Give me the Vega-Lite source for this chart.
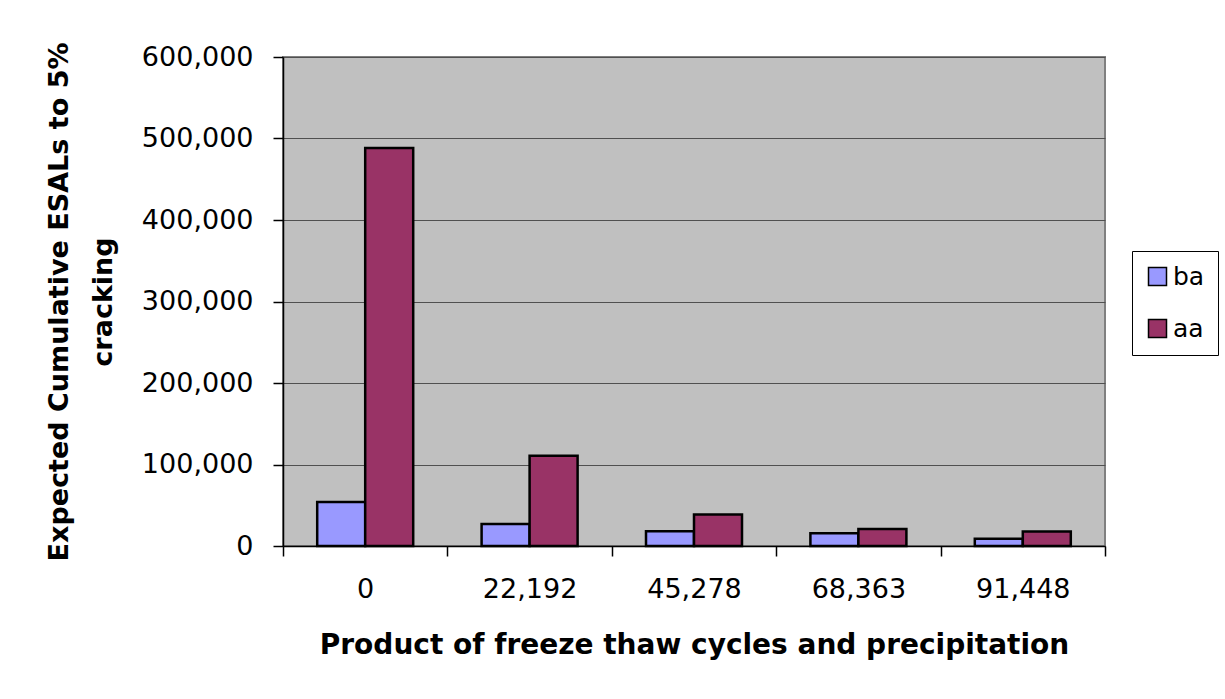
{
  "$schema": "https://vega.github.io/schema/vega-lite/v6.json",
  "autosize": "none",
  "padding": {"left": 283, "top": 57, "right": 120, "bottom": 153},
  "width": 822,
  "height": 489,
  "background": "white",
  "data": {
    "values": [
      {"cat": "0", "series": "ba", "value": 54000},
      {"cat": "0", "series": "aa", "value": 488300},
      {"cat": "22,192", "series": "ba", "value": 27000},
      {"cat": "22,192", "series": "aa", "value": 110800},
      {"cat": "45,278", "series": "ba", "value": 18000},
      {"cat": "45,278", "series": "aa", "value": 38800},
      {"cat": "68,363", "series": "ba", "value": 15500},
      {"cat": "68,363", "series": "aa", "value": 20900},
      {"cat": "91,448", "series": "ba", "value": 9000},
      {"cat": "91,448", "series": "aa", "value": 17900}
    ]
  },
  "mark": {"type": "bar", "stroke": "black", "strokeWidth": 2.5},
  "encoding": {
    "x": {
      "field": "cat",
      "type": "nominal",
      "sort": ["0", "22,192", "45,278", "68,363", "91,448"],
      "scale": {"paddingInner": 0, "paddingOuter": 0},
      "axis": {
        "title": "Product of freeze thaw cycles and precipitation",
        "labelAngle": 0,
        "tickBand": "extent",
        "tickSize": 10,
        "tickColor": "black",
        "domainColor": "black",
        "labelFont": "DejaVu Sans",
        "labelFontSize": 27,
        "labelColor": "black",
        "labelPadding": 20,
        "titleFont": "DejaVu Sans",
        "titleFontWeight": "bold",
        "titleFontSize": 28,
        "titleColor": "black",
        "titlePadding": 29
      }
    },
    "xOffset": {
      "field": "series",
      "type": "nominal",
      "scale": {"domain": ["ba", "aa"], "paddingInner": 0, "paddingOuter": 0.7125}
    },
    "y": {
      "field": "value",
      "type": "quantitative",
      "scale": {"domain": [0, 600000]},
      "axis": {
        "title": ["Expected Cumulative ESALs to 5%", "cracking"],
        "values": [0, 100000, 200000, 300000, 400000, 500000, 600000],
        "format": ",d",
        "tickSize": 10,
        "tickColor": "black",
        "domainColor": "black",
        "gridColor": "#505050",
        "gridOpacity": 1,
        "labelFont": "DejaVu Sans",
        "labelFontSize": 27,
        "labelColor": "black",
        "labelPadding": 20,
        "titleFont": "DejaVu Sans",
        "titleFontWeight": "bold",
        "titleFontSize": 27,
        "titleColor": "black",
        "titleLineHeight": 44,
        "titlePadding": 24
      }
    },
    "color": {
      "field": "series",
      "type": "nominal",
      "scale": {"domain": ["ba", "aa"], "range": ["#9999FF", "#993366"]},
      "legend": {
        "title": null,
        "orient": "none",
        "legendX": 849,
        "legendY": 194,
        "symbolType": "square",
        "symbolSize": 324,
        "symbolStrokeColor": "black",
        "symbolStrokeWidth": 1.5,
        "labelFont": "DejaVu Sans",
        "labelFontSize": 25,
        "labelColor": "black",
        "labelOffset": 3,
        "rowPadding": 26,
        "strokeColor": "black",
        "padding": 13,
        "fillColor": "white"
      }
    }
  },
  "config": {
    "view": {"fill": "#C0C0C0", "stroke": "#808080", "strokeWidth": 2},
    "axis": {"grid": true, "domainWidth": 1.5, "tickWidth": 1.5},
    "axisX": {"grid": false}
  }
}
